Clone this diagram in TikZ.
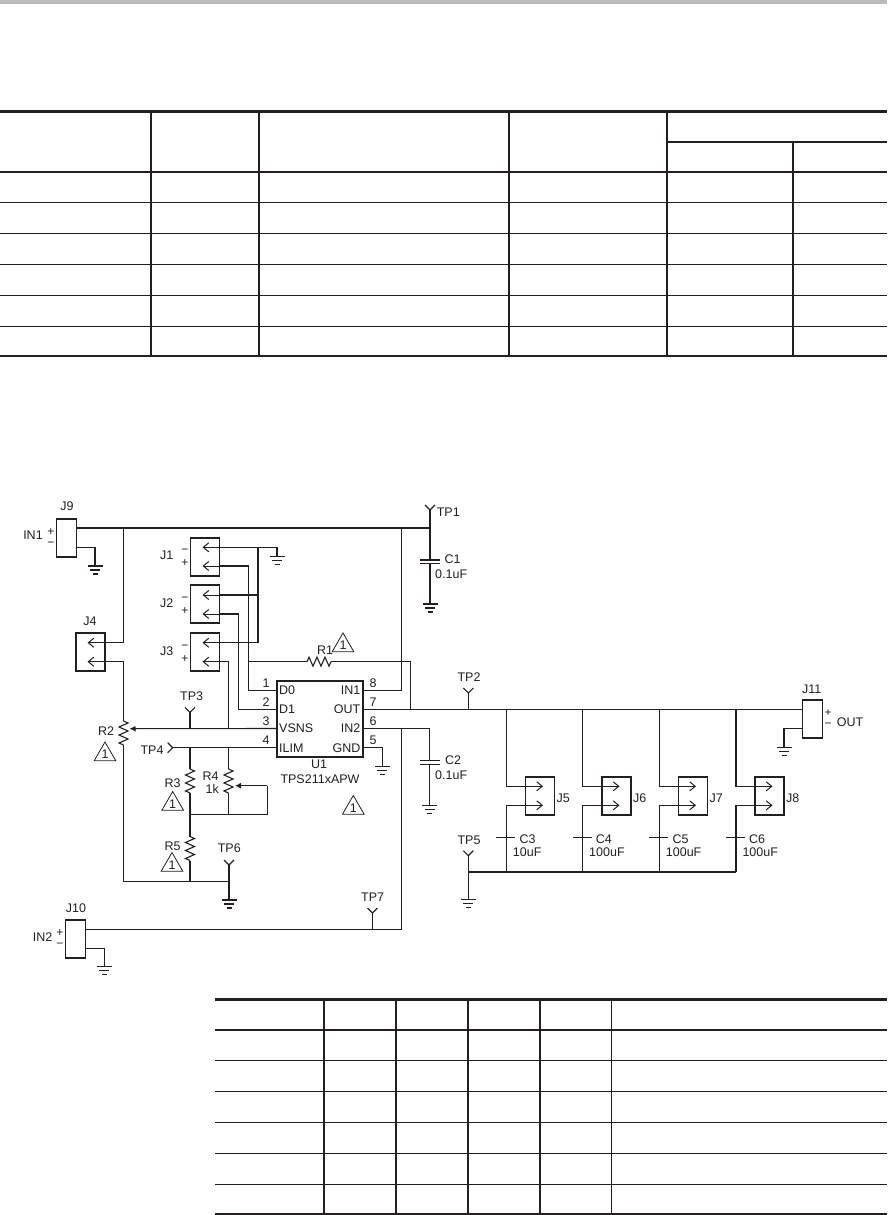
\documentclass[tikz,border=0pt]{standalone}
\usepackage{fontspec}
\setmainfont{Liberation Sans}
\usepackage{tikz}
\usetikzlibrary{shapes.geometric,positioning,calc}
\usetikzlibrary{arrows.meta}
\definecolor{ink}{HTML}{231F20}
\tikzstyle{wire} = [line width=1.1pt, draw=ink]
\tikzstyle{conn} = [rectangle, minimum width=29, minimum height=38, line width=1.5pt, draw=ink]
\tikzstyle{jack} = [rectangle, minimum width=20, minimum height=38, line width=1.5pt, draw=ink]
\tikzstyle{chip} = [rectangle, minimum width=86, minimum height=76, line width=1.6pt, draw=ink]
\tikzstyle{pin} = [line width=1pt, draw=ink, -{Straight Barb[length=5.5pt,width=9pt]}]
\tikzstyle{wiper} = [line width=1.1pt, draw=ink, -{Latex[length=6pt,width=6pt]}]
\tikzstyle{note} = [regular polygon, regular polygon sides=3, minimum size=25, line width=0.8pt, draw=ink]
\tikzstyle{sign} = [font=\fontsize{12}{12}\selectfont]
\tikzstyle{rule} = [line width=1.1pt, draw=ink]
\tikzstyle{heavyrule} = [line width=2.6pt, draw=ink]
\tikzstyle{midrule} = [line width=1.6pt, draw=ink]
\tikzset{
  every node/.style={inner sep=0pt, text=ink, font=\fontsize{12.5}{14}\selectfont},
  gndsym/.pic={
    \draw[wire] (-7.5,0) -- (7.5,0) (-5,4) -- (5,4) (-2.5,8) -- (2.5,8);
  },
  tpsym/.pic={
    \draw[wire] (-5,-5) -- (0,0) -- (5,-5);
  },
  ressym/.pic={
    \draw[wire] (0,0) -- (4.5,2) -- (-4.5,6) -- (4.5,10) -- (-4.5,14) -- (4.5,18) -- (-4.5,22) -- (0,24);
  },
  capsym/.pic={
    \draw[wire] (-10,0) -- (10,0) (-10,3.5) -- (10,3.5);
  },
  platesym/.pic={
    \draw[wire] (-10,0) -- (9,0);
  }
}
\begin{document}
\begin{tikzpicture}[x=1pt,y=-1pt]
\useasboundingbox (0,0) rectangle (887,1215);
\fill[color={rgb,255:red,187;green,188;blue,190}] (0,0) rectangle (887,4);
% upper table
\draw[heavyrule] (0,111.5) -- (887,111.5);
\draw[midrule] (0,172) -- (887,172);
\draw[midrule] (0,356) -- (887,356);
\draw[midrule] (667,142) -- (887,142);
\draw[rule] (0,202.5) -- (887,202.5);
\draw[rule] (0,233.5) -- (887,233.5);
\draw[rule] (0,264.5) -- (887,264.5);
\draw[rule] (0,295.5) -- (887,295.5);
\draw[rule] (0,326.5) -- (887,326.5);
\draw[midrule] (151,111) -- (151,356);
\draw[midrule] (259,111) -- (259,356);
\draw[midrule] (509,111) -- (509,356);
\draw[midrule] (667,111) -- (667,356);
\draw[midrule] (793,142) -- (793,356);
% lower table
\draw[heavyrule] (215,999.5) -- (887,999.5);
\draw[midrule] (215,1030) -- (887,1030);
\draw[midrule] (215,1214) -- (887,1214);
\draw[rule] (215,1060.5) -- (887,1060.5);
\draw[rule] (215,1091.5) -- (887,1091.5);
\draw[rule] (215,1122.5) -- (887,1122.5);
\draw[rule] (215,1153.5) -- (887,1153.5);
\draw[rule] (215,1184.5) -- (887,1184.5);
\draw[midrule] (324,999) -- (324,1214);
\draw[midrule] (396,999) -- (396,1214);
\draw[midrule] (468,999) -- (468,1214);
\draw[midrule] (540,999) -- (540,1214);
\draw[rule] (611.5,999) -- (611.5,1214);
% parts
\node (u1) at (320,719) [chip] {};
\node (j9) at (66.5,538) [jack] {};
\node (j10) at (75.5,939) [jack] {};
\node (j11) at (812.5,719) [jack] {};
\node (j1) at (205,557) [conn] {};
\node (j2) at (205,604) [conn] {};
\node (j3) at (205,652) [conn] {};
\node (j4) at (90.5,652) [conn] {};
\node (j5) at (540,796) [conn, line width=1.2pt] {};
\node (j6) at (616.5,796) [conn, line width=1.2pt] {};
\node (j7) at (693,796) [conn, line width=1.2pt] {};
\node (j8) at (769.5,796) [conn, line width=1.2pt] {};
% pin and wire points
\coordinate (d0) at (277,690.3);
\coordinate (d1) at (277,709.3);
\coordinate (vsns) at (277,728.5);
\coordinate (ilim) at (277,747.7);
\coordinate (in1) at (363,690.3);
\coordinate (out) at (363,709.3);
\coordinate (in2) at (363,728.5);
\coordinate (gnd) at (363,747.7);
\coordinate (top9) at (76.5,528);
\coordinate (low9) at (76.5,547.3);
\coordinate (top10) at (85.5,929.3);
\coordinate (low10) at (85.5,948.3);
\coordinate (top11) at (802.5,709.3);
\coordinate (low11) at (802.5,728.7);
\coordinate (g9) at (95,566);
\coordinate (g10) at (104.3,966.7);
\coordinate (g11) at (784,747.3);
\coordinate (g1) at (277,556.7);
\coordinate (gu) at (382.3,766.7);
\coordinate (gc1) at (430,604);
\coordinate (gc2) at (429.5,805.7);
\coordinate (g5) at (468.3,899.3);
\coordinate (g6) at (229,900);
\coordinate (tp1) at (430,510);
\coordinate (tp2) at (468.3,693);
\coordinate (tp3) at (190,712.3);
\coordinate (tp4) at (172.7,747.7);
\coordinate (tp5) at (468.3,855.7);
\coordinate (tp6) at (229,865);
\coordinate (tp7) at (372.5,913);
\coordinate (r1a) at (307,661.7);
\coordinate (r1b) at (331,661.7);
\coordinate (r2a) at (123.5,721);
\coordinate (r2b) at (123.5,745);
\coordinate (r2w) at (129.5,728.7);
\coordinate (r3a) at (190,769);
\coordinate (r3b) at (190,793);
\coordinate (r4a) at (228.5,769);
\coordinate (r4b) at (228.5,793);
\coordinate (r4w) at (235,785.7);
\coordinate (r5a) at (190,836.5);
\coordinate (r5b) at (190,860.5);
\coordinate (c1a) at (430,560);
\coordinate (c1b) at (430,563.5);
\coordinate (c2a) at (429.5,760.7);
\coordinate (c2b) at (429.5,764.2);
\coordinate (c3) at (506.3,837.7);
\coordinate (c4) at (582.7,837.7);
\coordinate (c5) at (659.3,837.7);
\coordinate (c6) at (736,837.7);
% symbols
\pic at (g9) {gndsym};
\pic at (g10) {gndsym};
\pic at (g11) {gndsym};
\pic at (g1) {gndsym};
\pic at (gu) {gndsym};
\pic at (gc1) {gndsym};
\pic at (gc2) {gndsym};
\pic at (g5) {gndsym};
\pic at (g6) {gndsym};
\pic at (tp1) {tpsym};
\pic at (tp2) {tpsym};
\pic at (tp3) {tpsym};
\pic[rotate=90] at (tp4) {tpsym};
\pic at (tp5) {tpsym};
\pic at (tp6) {tpsym};
\pic at (tp7) {tpsym};
\pic[rotate=90] at (r1a) {ressym};
\pic at (r2a) {ressym};
\pic at (r3a) {ressym};
\pic at (r4a) {ressym};
\pic at (r5a) {ressym};
\pic at (c1a) {capsym};
\pic at (c2a) {capsym};
\pic at (c3) {platesym};
\pic at (c4) {platesym};
\pic at (c5) {platesym};
\pic at (c6) {platesym};
% connector pins
\draw[pin] (219,547.3) -- (202.5,547.3);
\draw[pin] (219,566) -- (202.5,566);
\draw[pin] (219,595) -- (202.5,595);
\draw[pin] (219,614) -- (202.5,614);
\draw[pin] (219,642.7) -- (202.5,642.7);
\draw[pin] (219,661.7) -- (202.5,661.7);
\draw[pin] (105,642.7) -- (87.5,642.7);
\draw[pin] (105,661.7) -- (87.5,661.7);
\draw[pin] (516,786.3) -- (543,786.3);
\draw[pin] (516,805.3) -- (543,805.3);
\draw[pin] (592,786.3) -- (619.5,786.3);
\draw[pin] (592,805.3) -- (619.5,805.3);
\draw[pin] (669,786.3) -- (696,786.3);
\draw[pin] (669,805.3) -- (696,805.3);
\draw[pin] (745,786.3) -- (772.5,786.3);
\draw[pin] (745,805.3) -- (772.5,805.3);
% wires
\draw[wire] (top9) -- (tp1 |- top9) -- (tp1);
\draw[wire] (tp1 |- top9) -- (c1a);
\draw[wire] (c1b) -- (gc1);
\draw[wire] (low9) -| (g9);
\draw[wire] (123.5,528) |- (j4.east |- 0,642.7);
\draw[wire] (j4.east |- 0,661.7) -| (r2a);
\draw[wire] (r2b) |- (g6 |- 0,881.5);
\draw[wire] (tp6) -- (g6);
\draw[wire] (j1.east |- 0,547.3) -| (g1);
\draw[wire] (258,547.3) |- (j3.east |- 0,642.7);
\draw[wire] (j2.east |- 0,595) -- (258,595);
\draw[wire] (j1.east |- 0,566) -| (248.5,690.3) -- (d0);
\draw[wire] (j2.east |- 0,614) -| (238.5,709.3) -- (d1);
\draw[wire] (j3.east |- 0,661.7) -| (228.5,728.5);
\draw[wire] (248,661.7) -- (r1a);
\draw[wire] (r1b) -- (410.5,661.7) -- (410.5,709.3);
\draw[wire] (in1) -| (401.7,528);
\draw[wire] (out) -- (top11);
\draw[wire] (tp2) -- (tp2 |- out);
\draw[wire] (in2) -| (c2a);
\draw[wire] (c2b) -- (gc2);
\draw[wire] (401.7,728.5) |- (top10);
\draw[wire] (tp7) -- (tp7 |- top10);
\draw[wire] (low10) -| (g10);
\draw[wire] (gnd) -| (gu);
\draw[wire] (low11) -| (g11);
\draw[wiper] (vsns) -- (r2w);
\draw[wire] (tp3) -- (tp3 |- vsns);
\draw[wire] (ilim) -- (tp4);
\draw[wire] (r3a |- ilim) -- (r3a);
\draw[wire] (r4a |- ilim) -- (r4a);
\draw[wire] (r3b) -- (r5a);
\draw[wire] (r5b) -- (190,881.5);
\draw[wire] (r4b) -- (228.5,814.3);
\draw[wire] (190,814.3) -| (267.3,785.7);
\draw[wiper] (267.3,785.7) -- (r4w);
\draw[wire] (506.3,709.3) |- (525.5,786.3);
\draw[wire] (582.7,709.3) |- (602,786.3);
\draw[wire] (659.3,709.3) |- (678.5,786.3);
\draw[wire] (736,709.3) |- (755,786.3);
\draw[wire] (525.5,805.3) -| (c3) -- (506.3,872);
\draw[wire] (602,805.3) -| (c4) -- (582.7,872);
\draw[wire] (678.5,805.3) -| (c5) -- (659.3,872);
\draw[wire] (755,805.3) -| (c6) -- (736,872);
\draw[wire] (736,872) -- (tp5 |- 0,872);
\draw[wire] (tp5) -- (g5);
% reference marks
\node (n1) at (343,645.5) [note] {1};
\node (n2) at (105,754.5) [note] {1};
\node (n3) at (172.7,804) [note] {1};
\node (n4) at (353.3,808) [note] {1};
\node (n5) at (172,865) [note] {1};
% labels
\node (lu1) at (319,764) {U1};
\node (lu2) at (320,779) {TPS211xAPW};
\node (pd0) at (279,690.3) [anchor=west] {D0};
\node (pd1) at (279,709.3) [anchor=west] {D1};
\node (pvs) at (279,728.5) [anchor=west] {VSNS};
\node (pil) at (279,747.7) [anchor=west] {ILIM};
\node (pi1) at (360.5,690.3) [anchor=east] {IN1};
\node (pou) at (360.5,709.3) [anchor=east] {OUT};
\node (pi2) at (360.5,728.5) [anchor=east] {IN2};
\node (pgn) at (360.5,747.7) [anchor=east] {GND};
\node (p1) at (266,683) {1};
\node (p2) at (266,702) {2};
\node (p3) at (266,721) {3};
\node (p4) at (266,740) {4};
\node (p8) at (373,683) {8};
\node (p7) at (373,702) {7};
\node (p6) at (373,721) {6};
\node (p5) at (373,740) {5};
\node (lj9) at (67,506) {J9};
\node (lin1) at (33,535) {IN1};
\node (s9a) at (51,532.3) [sign] {+};
\node (s9b) at (51,544.3) [sign] {−};
\node (lj10) at (76,907.7) {J10};
\node (lin2) at (42.7,936.7) {IN2};
\node (s10a) at (60,933) [sign] {+};
\node (s10b) at (60,945) [sign] {−};
\node (lj11) at (811.7,689) {J11};
\node (s11a) at (828,713.3) [sign] {+};
\node (s11b) at (828,725.7) [sign] {−};
\node (lout) at (836.7,721.7) [anchor=west] {OUT};
\node (lj1) at (166.7,555) {J1};
\node (s1a) at (185,551.3) [sign] {−};
\node (s1b) at (185,563.3) [sign] {+};
\node (lj2) at (166.7,603) {J2};
\node (s2a) at (185,599.3) [sign] {−};
\node (s2b) at (185,611) [sign] {+};
\node (lj3) at (166.7,650.7) {J3};
\node (s3a) at (185,647.3) [sign] {−};
\node (s3b) at (185,658.7) [sign] {+};
\node (lj4) at (90,621.7) {J4};
\node (lj5) at (556.5,798.3) [anchor=west] {J5};
\node (lj6) at (633,798.3) [anchor=west] {J6};
\node (lj7) at (709.5,798.3) [anchor=west] {J7};
\node (lj8) at (786,798.3) [anchor=west] {J8};
\node (ltp1) at (448.3,511.7) {TP1};
\node (ltp2) at (469,676.7) {TP2};
\node (ltp3) at (191.7,696) {TP3};
\node (ltp4) at (152,750) {TP4};
\node (ltp5) at (469,840) {TP5};
\node (ltp6) at (229.3,848) {TP6};
\node (ltp7) at (372.7,896.7) {TP7};
\node (lr1) at (325,650) {R1};
\node (lr2) at (106,731) {R2};
\node (lr3) at (172.7,783) {R3};
\node (lr4) at (210.7,776) {R4};
\node (lr4v) at (212.3,788.5) {1k};
\node (lr5) at (172.7,846) {R5};
\node (lc1) at (444.3,559.3) [anchor=west] {C1};
\node (lc1v) at (435,574) [anchor=west] {0.1uF};
\node (lc2) at (445,760) [anchor=west] {C2};
\node (lc2v) at (435,775) [anchor=west] {0.1uF};
\node (lc3) at (519.3,839.3) [anchor=west] {C3};
\node (lc3v) at (512.7,851.7) [anchor=west] {10uF};
\node (lc4) at (595.7,839.3) [anchor=west] {C4};
\node (lc4v) at (589,851.7) [anchor=west] {100uF};
\node (lc5) at (672.3,839.3) [anchor=west] {C5};
\node (lc5v) at (665.7,851.7) [anchor=west] {100uF};
\node (lc6) at (749,839.3) [anchor=west] {C6};
\node (lc6v) at (742.3,851.7) [anchor=west] {100uF};
\end{tikzpicture}
\end{document}
